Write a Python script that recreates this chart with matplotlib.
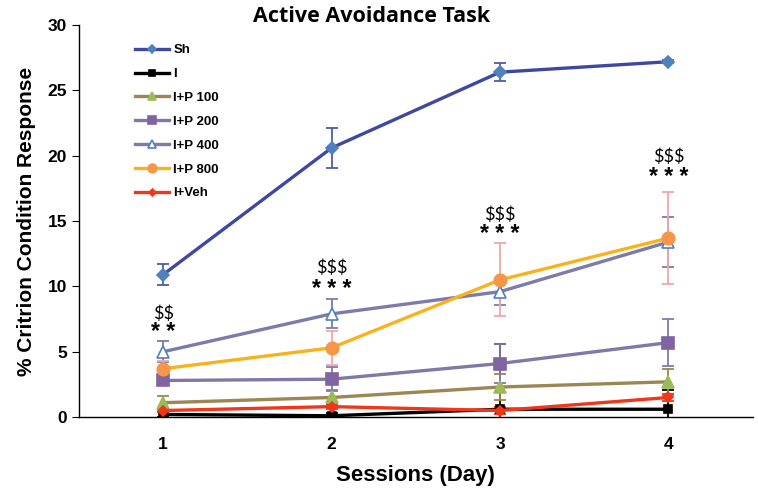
import matplotlib.pyplot as plt

days = [1, 2, 3, 4]
day_labels = ["1", "2", "3", "4"]

series_names = ["Sh", "I", "I+P 100", "I+P 200", "I+P 400", "I+P 800", "I+Veh"]
sh = [10.9, 20.6, 26.4, 27.2]
sh_err = [0.8, 1.5, 0.7, 0.1]
i_only = [0.2, 0.1, 0.6, 0.6]
i_only_err = [0.2, 0.2, 5.0, 1.5]
ip100 = [1.1, 1.5, 2.3, 2.7]
ip100_err = [0.5, 0.6, 1.0, 1.0]
ip200 = [2.8, 2.9, 4.1, 5.7]
ip200_err = [0.3, 0.9, 1.5, 1.8]
ip400 = [5.0, 7.9, 9.6, 13.4]
ip400_err = [0.8, 1.1, 1.0, 1.95]
ip800 = [3.7, 5.3, 10.5, 13.7]
ip800_err = [0.6, 1.3, 2.8, 3.5]
iveh = [0.5, 0.8, 0.5, 1.5]
iveh_err = [0.1, 0.2, 0.3, 0.3]

sig_dollar = ["$$", "$$$", "$$$", "$$$"]
sig_star = ["* *", "* * *", "* * *", "* * *"]
dollar_y = [7.9, 11.4, 15.5, 19.9]
star_y = [6.5, 9.8, 14.0, 18.3]

plt.rcParams['font.family'] = ['Liberation Sans', 'DejaVu Sans']
plt.rcParams['text.parse_math'] = False

fig = plt.figure(figsize=(7.58, 4.93), dpi=100)
ax = fig.add_axes([0.104, 0.154, 0.889, 0.795])

# (values, errors, line colour, marker, marker face, marker edge, error colour, marker size)
styles = [
    (sh, sh_err, '#3F48A0', 'D', '#4F81BD', '#4F81BD', '#4F5AA8', 6),
    (i_only, i_only_err, '#000000', 's', '#000000', '#000000', '#000000', 6),
    (ip100, ip100_err, '#9C8654', '^', '#9BBB59', '#9BBB59', '#9C8654', 8),
    (ip200, ip200_err, '#8079A8', 's', '#8064A2', '#8064A2', '#8079A8', 8),
    (ip400, ip400_err, '#7C7BAA', '^', 'white', '#4F81BD', '#7C7BAA', 8),
    (ip800, ip800_err, '#F9B21B', 'o', '#F79646', '#F79646', '#F4A6A6', 9),
    (iveh, iveh_err, '#F2361A', 'D', '#F2361A', '#F2361A', '#F2361A', 5),
]

for name, (vals, errs, lc, mk, mfc, mec, ec, ms) in zip(series_names, styles):
    ax.errorbar(days, vals, yerr=errs, fmt='none', ecolor=ec, elinewidth=1.3,
                capsize=4, capthick=1.3, zorder=2)
    ax.plot(days, vals, color=lc, linewidth=2.4, marker=mk, markersize=ms,
            markerfacecolor=mfc, markeredgecolor=mec, markeredgewidth=1.2,
            label=name, zorder=3)

for d, s1, s2, y1, y2 in zip(days, sig_dollar, sig_star, dollar_y, star_y):
    ax.text(d, y1, s1, ha='center', va='center', fontsize=13, family=['Lato', 'DejaVu Sans'])
    ax.text(d, y2, s2, ha='center', va='center', fontsize=16.5, fontweight='bold')

ax.set_xlim(0.5, 4.5)
ax.set_ylim(0, 30)
ax.set_xticks(days)
ax.set_xticklabels(day_labels)
ax.set_yticks([0, 5, 10, 15, 20, 25, 30])
ax.tick_params(axis='x', length=0, pad=14, labelsize=12.5)
ax.tick_params(axis='y', length=5, direction='out', labelsize=12.5)
for lab in ax.get_xticklabels() + ax.get_yticklabels():
    lab.set_fontweight('bold')

ax.spines['top'].set_visible(False)
ax.spines['right'].set_visible(False)
ax.spines['left'].set_linewidth(1.0)
ax.spines['bottom'].set_linewidth(1.0)

ax.set_xlabel("Sessions (Day)", fontsize=16, fontweight='bold', labelpad=10)
ax.set_ylabel("% Critrion Condition Response", fontsize=15, fontweight='bold', labelpad=8)

fig.text(0.49, 0.966, "Active Avoidance Task", ha='center', va='center',
         fontsize=15.5, fontweight='bold', family=['Open Sans', 'DejaVu Sans'])

leg = ax.legend(loc='upper left', bbox_to_anchor=(0.066, 0.982), frameon=False,
                prop={'weight': 'bold', 'size': 9.5}, handlelength=2.6,
                labelspacing=0.88, handletextpad=0.3, markerscale=0.7)

fig.savefig("out.png", dpi=100)
